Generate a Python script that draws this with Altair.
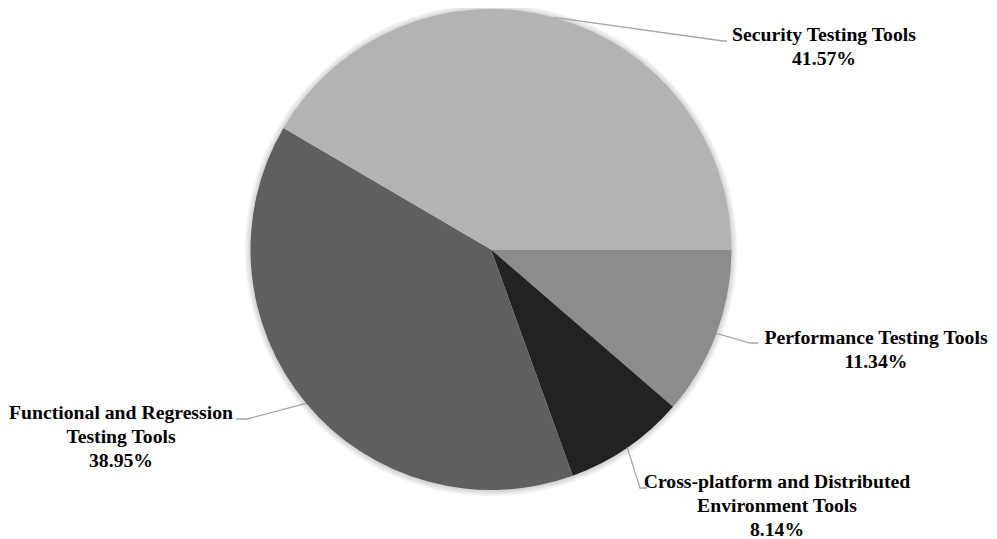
import math
import altair as alt
import pandas as pd

# ---- data ----
categories = [
    "Performance Testing Tools",
    "Cross-platform and Distributed Environment Tools",
    "Functional and Regression Testing Tools",
    "Security Testing Tools",
]
shares = [11.34, 8.14, 38.95, 41.57]
label_names = [
    "Performance Testing Tools",
    "Cross-platform and Distributed\nEnvironment Tools",
    "Functional and Regression\nTesting Tools",
    "Security Testing Tools",
]
colors = ["#8c8c8c", "#222222", "#5f5f5f", "#b3b3b3"]

# ---- layout (pixels inside the chart area) ----
W, H = 981, 531
CX, CY, R = 483, 241.5, 240.5
START = math.pi / 2
label_xy = [(868, 330), (769, 474), (113, 405), (816, 27)]   # first line of each label
elbow_xy = [(742, 335), (632, 480), (239, 411), (715, 33)]
end_xy = [(750, 335), (639, 480), (228, 411), (719, 33)]

df = pd.DataFrame({
    "category": categories,
    "share": shares,
    "idx": list(range(len(categories))),
    "label": [f"{n}\n{s:.2f}%" for n, s in zip(label_names, shares)],
    "lx": [p[0] for p in label_xy],
    "ly": [p[1] for p in label_xy],
})

# leader lines: from the middle of each slice's edge to the label
total = sum(shares)
rows = []
cum = 0.0
for i, (c, s) in enumerate(zip(categories, shares)):
    mid = START + 2 * math.pi * (cum + s / 2) / total
    cum += s
    sx = CX + R * math.sin(mid)
    sy = CY - R * math.cos(mid)
    pts = [(sx, sy), elbow_xy[i], end_xy[i]]
    for k, (px, py) in enumerate(pts):
        rows.append({"category": c, "step": k, "px": px, "py": py})
lines_df = pd.DataFrame(rows)

xs = alt.Scale(domain=[0, W], nice=False, zero=False)
ys = alt.Scale(domain=[H, 0], nice=False, zero=False)

# soft glow around the pie
one = pd.DataFrame({"k": [0]})
shadow_layers = [
    alt.Chart(one).mark_arc(
        theta=0, theta2=2 * math.pi, radius=R + d, color="#000000", opacity=0.028
    ).encode(x=alt.value(CX), y=alt.value(CY + 0.5))
    for d in [6, 5, 4, 3, 2, 1]
]

pie = alt.Chart(df).mark_arc(radius=R).encode(
    theta=alt.Theta("share:Q", stack=True,
                    scale=alt.Scale(range=[START, START + 2 * math.pi])),
    color=alt.Color("category:N",
                    scale=alt.Scale(domain=categories, range=colors),
                    legend=None),
    order=alt.Order("idx:Q"),
    x=alt.value(CX),
    y=alt.value(CY),
)

leaders = alt.Chart(lines_df).mark_line(color="#a6a6a6", strokeWidth=1.3).encode(
    x=alt.X("px:Q", scale=xs, axis=None),
    y=alt.Y("py:Q", scale=ys, axis=None),
    detail="category:N",
    order="step:Q",
)

labels = alt.Chart(df).mark_text(
    font="Liberation Serif", fontWeight="bold", fontSize=19.7,
    lineBreak="\n", lineHeight=24, align="center", baseline="middle",
    color="#000000",
).encode(
    x=alt.X("lx:Q", scale=xs, axis=None),
    y=alt.Y("ly:Q", scale=ys, axis=None),
    text="label:N",
)

chart = alt.layer(*shadow_layers, pie, leaders, labels).properties(
    width=W, height=H, padding=0, background="#ffffff",
    autosize=alt.AutoSizeParams(type="none"),
).configure_view(stroke=None)

chart.save("out.html", embed_options={"renderer": "svg", "actions": False})
